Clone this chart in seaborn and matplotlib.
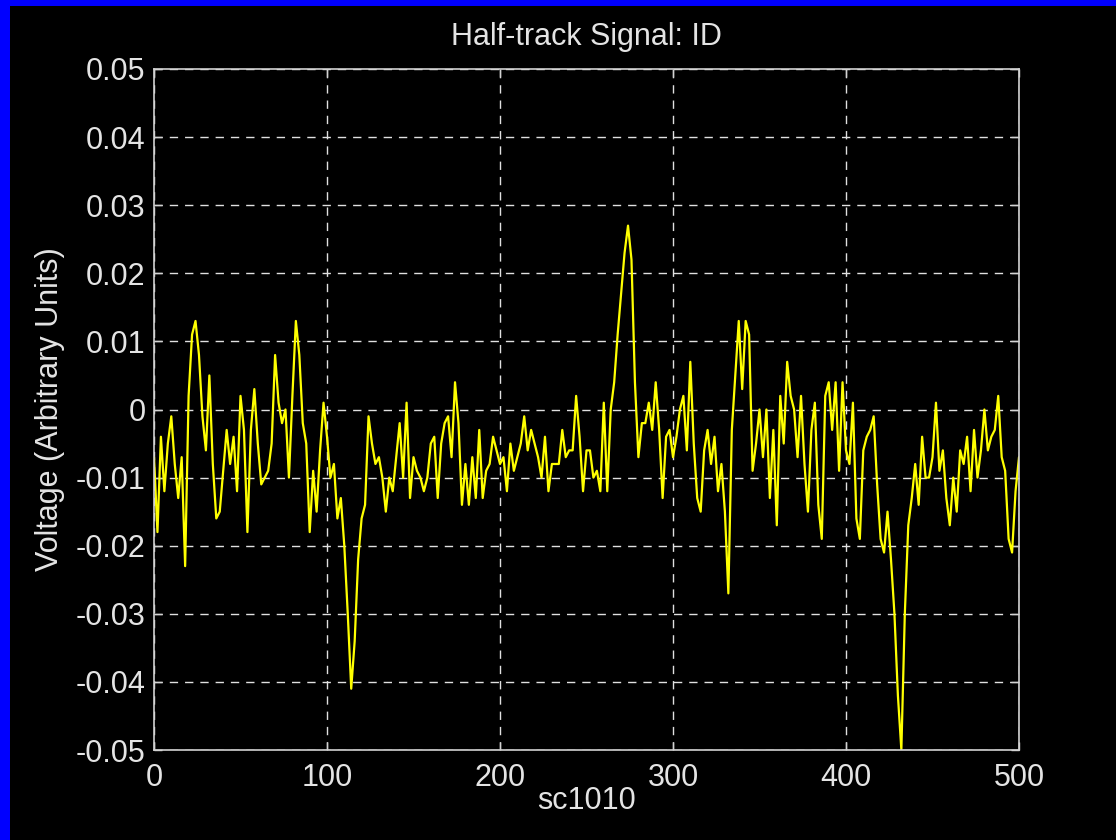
import numpy as np
import pandas as pd
import matplotlib
matplotlib.use("Agg")
import matplotlib.pyplot as plt
import seaborn as sns
from matplotlib.patches import Rectangle

TITLE = "Half-track Signal: ID"
X_LABEL = "sc1010"
Y_LABEL = "Voltage (Arbitrary Units)"

# Recorded signal, one reading every second sample, in thousandths of a unit
sample_step = 2
signal_milli = [
    -7, -18, -4, -12, -5, -1, -8, -13, -7, -23,
    2, 11, 13, 8, -1, -6, 5, -8, -16, -15,
    -9, -3, -8, -4, -12, 2, -3, -18, -3, 3,
    -5, -11, -10, -9, -5, 8, 1, -2, 0, -10,
    2, 13, 8, -2, -5, -18, -9, -15, -6, 1,
    -4, -10, -8, -16, -13, -20, -30, -41, -34, -22,
    -16, -14, -1, -5, -8, -7, -10, -15, -10, -12,
    -7, -2, -10, 1, -13, -7, -9, -10, -12, -10,
    -5, -4, -13, -5, -2, -1, -7, 4, -2, -14,
    -8, -14, -7, -13, -3, -13, -9, -8, -4, -6,
    -8, -7, -12, -5, -9, -7, -5, -1, -6, -3,
    -5, -7, -10, -4, -12, -8, -8, -8, -3, -7,
    -6, -6, 2, -4, -12, -6, -6, -10, -9, -12,
    1, -12, 0, 4, 11, 17, 23, 27, 22, 4,
    -7, -2, -2, 1, -3, 4, -3, -13, -4, -3,
    -7, -4, 0, 2, -6, 7, -5, -13, -15, -6,
    -3, -8, -4, -12, -8, -15, -27, -3, 5, 13,
    3, 13, 11, -9, -5, 0, -7, 0, -13, -3,
    -17, 2, -5, 7, 2, 0, -7, 2, -8, -15,
    -3, 1, -14, -19, 2, 4, -3, 4, -9, 4,
    -6, -8, 1, -16, -19, -6, -4, -3, -1, -11,
    -19, -21, -15, -22, -30, -42, -50, -30, -17, -13,
    -8, -14, -4, -10, -10, -7, 1, -9, -6, -13,
    -17, -10, -15, -6, -8, -4, -12, -3, -10, -6,
    0, -6, -4, -3, 2, -7, -9, -19, -21, -12,
    -7,
]
sample_index = np.arange(len(signal_milli)) * sample_step

x_ticks = [0, 100, 200, 300, 400, 500]
y_ticks = [-0.05, -0.04, -0.03, -0.02, -0.01, 0.0, 0.01, 0.02, 0.03, 0.04, 0.05]
y_tick_labels = ["-0.05", "-0.04", "-0.03", "-0.02", "-0.01", "0",
                 "0.01", "0.02", "0.03", "0.04", "0.05"]

TEXT = "#e4e4e4"
FRAME = "#d2d2d2"
TRACE = "#ffff00"
FONT = 22

sns.set_theme(style="dark")
plt.rcParams["font.family"] = ["Liberation Sans", "DejaVu Sans"]
plt.rcParams["axes.unicode_minus"] = False

W, H = 1116, 840
fig = plt.figure(figsize=(W / 100, H / 100), dpi=100, facecolor="black")
ax = fig.add_axes([154 / W, 1 - 750 / H, (1019 - 154) / W, (750 - 69) / H])
ax.set_facecolor("black")

df = pd.DataFrame({"sample": sample_index,
                   "voltage": np.asarray(signal_milli, dtype=float) / 1000.0})
sns.lineplot(data=df, x="sample", y="voltage", ax=ax, color=TRACE,
             linewidth=1.6, estimator=None, sort=False)

ax.set_xlim(0, 500)
ax.set_ylim(-0.05, 0.05)
ax.set_xticks(x_ticks)
ax.set_xticklabels([str(t) for t in x_ticks])
ax.set_yticks(y_ticks)
ax.set_yticklabels(y_tick_labels)

ax.grid(True, color="#e0e0e0", linestyle=(0, (6, 5)), linewidth=1.0)
ax.set_axisbelow(True)

for side in ("left", "right", "top", "bottom"):
    ax.spines[side].set_visible(True)
    ax.spines[side].set_color(FRAME)
    ax.spines[side].set_linewidth(1.2)

ax.tick_params(axis="both", which="major", direction="in", length=6,
               width=1, color=FRAME, labelcolor=TEXT, labelsize=FONT,
               top=True, right=True, bottom=True, left=True)
ax.tick_params(axis="x", pad=9)
ax.tick_params(axis="y", pad=6)

ax.set_title(TITLE, fontsize=FONT, color=TEXT, pad=17)
ax.set_xlabel(X_LABEL, fontsize=FONT, color=TEXT, labelpad=-5)
ax.set_ylabel(Y_LABEL, fontsize=FONT, color=TEXT, labelpad=8)

# blue window edge along the left and top
fig.add_artist(Rectangle((0, 0), 10 / W, 1, transform=fig.transFigure,
                         facecolor="#0000ff", edgecolor="none"))
fig.add_artist(Rectangle((0, 1 - 6 / H), 1, 6 / H, transform=fig.transFigure,
                         facecolor="#0000ff", edgecolor="none"))

fig.savefig("out.png", dpi=100, facecolor="black")
